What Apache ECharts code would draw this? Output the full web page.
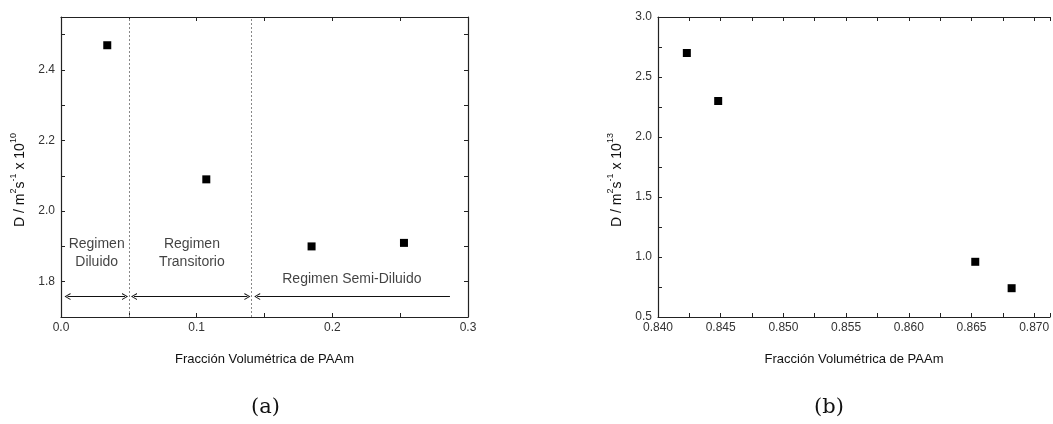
<!DOCTYPE html>
<html>
<head>
<meta charset="utf-8">
<script src="https://cdn.jsdelivr.net/npm/echarts@6/dist/echarts.min.js"></script>
<style>
  html, body { margin: 0; padding: 0; background: #fff; }
  #chart { width: 1053px; height: 424px; }
</style>
</head>
<body>
<div id="chart"></div>
<script>
// (a) diffusion coefficient vs PAAm volume fraction (x 10^10)
const fracA = [0.0341, 0.1071, 0.1847, 0.2528];
const diffA = [2.47, 2.09, 1.90, 1.91];

// (b) diffusion coefficient vs PAAm volume fraction (x 10^13)
const fracB = [0.8423, 0.8448, 0.8653, 0.8682];
const diffB = [2.70, 2.30, 0.96, 0.74];

// concentration regimes in panel (a)
const regimeBounds = [0.0503, 0.1413];
const regimeNames = ['Regimen\nDiluido', 'Regimen\nTransitorio', 'Regimen Semi-Diluido'];
const regimeSpans = [[0.0048, 0.0472], [0.0538, 0.1374], [0.1446, 0.2867]];
const regimeArrowLevel = 1.758;

const xName = 'Fracción Volumétrica de PAAm';
const panelTags = ['(a)', '(b)'];

const FONT = 'Liberation Sans, Arial, sans-serif';
const LINE = '#222';
const TEXT = '#333';

// open chevron used as arrow head (tip pointing up, rotated by markLine)
const CHEVRON = 'path://M0,10 L5,0 L10,10 L8.4,10 L5,2.6 L1.6,10 Z';

function everyOther(step, dec) {
  return function (v) {
    const k = v / (2 * step);
    return Math.abs(k - Math.round(k)) < 1e-6 ? v.toFixed(dec) : '';
  };
}

function axisPair(kind, gridIndex, min, max, step, dec, name, extra, mirrorShown) {
  const isX = kind === 'x';
  const main = Object.assign({
    type: 'value', gridIndex, min, max, interval: step,
    position: isX ? 'bottom' : 'left',
    splitLine: { show: false },
    axisLine: { show: true, onZero: false, lineStyle: { color: LINE, width: 1.2 } },
    axisTick: { show: true, inside: true, length: 4, lineStyle: { color: LINE } },
    axisLabel: {
      show: true, color: TEXT, fontFamily: FONT, fontSize: 12,
      margin: isX ? 5 : 6, formatter: everyOther(step, dec),
      showMinLabel: true, showMaxLabel: true
    },
    name, nameLocation: 'middle'
  }, extra || {});
  const show = mirrorShown !== false;
  const mirror = {
    type: 'value', gridIndex, min, max, interval: step,
    position: isX ? 'top' : 'right',
    splitLine: { show: false },
    axisLine: { show, onZero: false, lineStyle: { color: LINE, width: 1.2 } },
    axisTick: { show, inside: true, length: 4, lineStyle: { color: LINE } },
    axisLabel: { show: false }
  };
  return [main, mirror];
}

function yName(exp) {
  return '{m|D / m}{s|2}{m|s}{s|-1}{m| x 10}{s|' + exp + '}';
}
const yNameStyle = {
  color: '#111', fontFamily: FONT, fontSize: 14,
  padding: [0, 26, 0, 0],
  rich: {
    m: { fontSize: 14, fontFamily: FONT, color: '#111', lineHeight: 18, verticalAlign: 'bottom' },
    s: { fontSize: 9, fontFamily: FONT, color: '#111', lineHeight: 18, verticalAlign: 'top' }
  }
};
const xNameStyle = { color: '#111', fontFamily: FONT, fontSize: 13 };

const xA = axisPair('x', 0, 0, 0.3, 0.05, 1, xName, { nameGap: 36, nameTextStyle: xNameStyle });
const yA = axisPair('y', 0, 1.7, 2.55, 0.1, 1, yName('10'), { nameGap: 34, nameRotate: 90, nameTextStyle: yNameStyle });
// panel (b) is cut off at the right edge of the page, so no right-hand frame
const xB = axisPair('x', 1, 0.840, 0.87126, 0.0025, 3, xName, { nameGap: 36, nameTextStyle: xNameStyle });
const yB = axisPair('y', 1, 0.5, 3.0, 0.25, 1, yName('13'), { nameGap: 34, nameRotate: 90, nameTextStyle: yNameStyle }, false);

const regimeLabelStyle = {
  show: true, position: 'inside', color: '#111', fontFamily: FONT, fontSize: 14, lineHeight: 18,
  formatter: p => p.name
};

const option = {
  animation: false,
  backgroundColor: '#fff',
  grid: [
    { left: 61, top: 17, width: 407, height: 300, containLabel: false },
    { left: 658, top: 17, width: 392, height: 300, containLabel: false }
  ],
  xAxis: [xA[0], xA[1], xB[0], xB[1]],
  yAxis: [yA[0], yA[1], yB[0], yB[1]],
  series: [
    {
      type: 'scatter', xAxisIndex: 0, yAxisIndex: 0,
      symbol: 'rect', symbolSize: 8,
      itemStyle: { color: '#000', opacity: 1 },
      data: fracA.map((x, i) => [x, diffA[i]]),
      markLine: {
        silent: true,
        symbol: ['none', 'none'],
        label: { show: false },
        lineStyle: { color: '#888', type: [2, 2], width: 1 },
        data: regimeBounds.map(b => ({ xAxis: b }))
      }
    },
    {
      // regime arrows
      type: 'scatter', xAxisIndex: 0, yAxisIndex: 0, data: [],
      markLine: {
        silent: true,
        symbolSize: [7, 6],
        label: { show: false },
        lineStyle: { color: '#111', type: 'solid', width: 1.2 },
        data: regimeSpans.map((s, i) => [
          { coord: [s[0], regimeArrowLevel], symbol: CHEVRON },
          { coord: [s[1], regimeArrowLevel], symbol: i === 2 ? 'none' : CHEVRON }
        ])
      }
    },
    {
      // regime captions
      type: 'scatter', xAxisIndex: 0, yAxisIndex: 0,
      symbolSize: 0, silent: true,
      label: regimeLabelStyle,
      data: [
        { name: regimeNames[0], value: [0.0263, 1.882] },
        { name: regimeNames[1], value: [0.0965, 1.882] },
        { name: regimeNames[2], value: [0.2144, 1.8085] }
      ]
    },
    {
      type: 'scatter', xAxisIndex: 2, yAxisIndex: 2,
      symbol: 'rect', symbolSize: 8,
      itemStyle: { color: '#000', opacity: 1 },
      data: fracB.map((x, i) => [x, diffB[i]])
    }
  ],
  graphic: [
    { type: 'text', left: 264 - 13, top: 397, style: { text: panelTags[0], font: '21px "DejaVu Serif", serif', fill: '#111' } },
    { type: 'text', left: 827 - 13, top: 397, style: { text: panelTags[1], font: '21px "DejaVu Serif", serif', fill: '#111' } }
  ]
};

const chart = echarts.init(document.getElementById('chart'), null, { renderer: 'canvas' });
chart.setOption(option);
</script>
</body>
</html>
